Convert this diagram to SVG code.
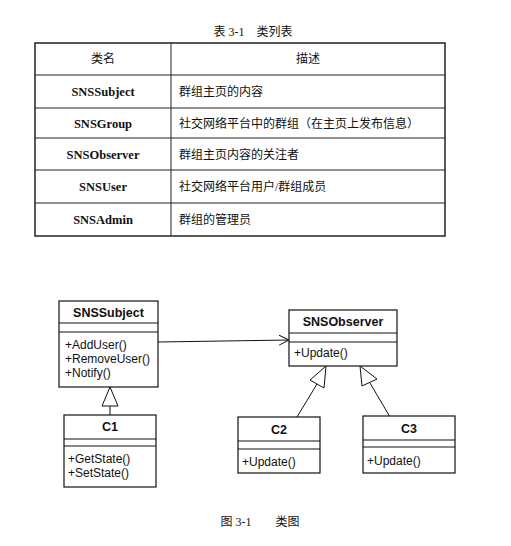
<svg xmlns="http://www.w3.org/2000/svg" width="511" height="546" viewBox="0 0 511 546">
<defs>
<style>
.cap{font-family:"Liberation Serif","Noto Sans CJK SC",serif;font-size:12px;fill:#111;text-anchor:middle}
.cn{font-family:"Liberation Serif","Noto Sans CJK SC",serif;font-size:12.5px;fill:#111;font-weight:bold;text-anchor:middle}
.cd{font-family:"Liberation Serif","Noto Sans CJK SC",serif;font-size:12px;fill:#111}
.tl{stroke:#222;stroke-width:1;fill:none}
.box{fill:#fff;stroke:#111;stroke-width:1.2}
.div{stroke:#111;stroke-width:1}
.ttl{font-family:"Liberation Sans",Arial,sans-serif;font-size:12.5px;font-weight:bold;fill:#111;text-anchor:middle}
.m{font-family:"Liberation Sans",Arial,sans-serif;font-size:12px;fill:#111}
.ln{stroke:#111;stroke-width:1;fill:none}
.tri{fill:#fff;stroke:#111;stroke-width:1}
</style>
<marker id="open" markerWidth="12" markerHeight="12" refX="10" refY="5" orient="auto" markerUnits="userSpaceOnUse">
<path d="M0,0 L10,5 L0,10" fill="none" stroke="#111" stroke-width="1"/>
</marker>
</defs>

<g id="table">
<text class="cap" x="253" y="36">表 3-1　类列表</text>
<rect x="35" y="43" width="410" height="193" fill="none" stroke="#222" stroke-width="1.5"/>
<line class="tl" x1="171" y1="43" x2="171" y2="236"/>
<line class="tl" x1="35" y1="75" x2="445" y2="75"/>
<line class="tl" x1="35" y1="108" x2="445" y2="108"/>
<line class="tl" x1="35" y1="138" x2="445" y2="138"/>
<line class="tl" x1="35" y1="170" x2="445" y2="170"/>
<line class="tl" x1="35" y1="203" x2="445" y2="203"/>
<text class="cap" x="103" y="63">类名</text>
<text class="cap" x="308" y="63">描述</text>
<text class="cn" x="103" y="96">SNSSubject</text>
<text class="cd" x="179" y="96">群组主页的内容</text>
<text class="cn" x="103" y="128">SNSGroup</text>
<text class="cd" x="179" y="128">社交网络平台中的群组（在主页上发布信息）</text>
<text class="cn" x="103" y="159">SNSObserver</text>
<text class="cd" x="179" y="159">群组主页内容的关注者</text>
<text class="cn" x="103" y="191">SNSUser</text>
<text class="cd" x="179" y="191">社交网络平台用户/群组成员</text>
<text class="cn" x="103" y="224">SNSAdmin</text>
<text class="cd" x="179" y="224">群组的管理员</text>
</g>

<g id="connectors">
<line class="ln" x1="158" y1="342" x2="289" y2="340" marker-end="url(#open)"/>
<line class="ln" x1="110" y1="406" x2="110" y2="415"/>
<polygon class="tri" points="110,387 102,406 118,406"/>
<line class="ln" x1="297" y1="417" x2="317" y2="384"/>
<polygon class="tri" points="326,366 310,380 324,388"/>
<line class="ln" x1="390" y1="417" x2="370" y2="383"/>
<polygon class="tri" points="360,366 362,386 377,379"/>
</g>

<g id="SNSSubject">
<rect class="box" x="59" y="301" width="99" height="86"/>
<line class="div" x1="59" y1="323" x2="158" y2="323"/>
<line class="div" x1="59" y1="332" x2="158" y2="332"/>
<text class="ttl" x="108.5" y="317">SNSSubject</text>
<text class="m" x="65" y="349">+AddUser()</text>
<text class="m" x="65" y="363">+RemoveUser()</text>
<text class="m" x="65" y="377">+Notify()</text>
</g>

<g id="C1">
<rect class="box" x="64" y="415" width="92" height="72"/>
<line class="div" x1="64" y1="439" x2="156" y2="439"/>
<line class="div" x1="64" y1="446" x2="156" y2="446"/>
<text class="ttl" x="110" y="431">C1</text>
<text class="m" x="68" y="463">+GetState()</text>
<text class="m" x="68" y="477">+SetState()</text>
</g>

<g id="SNSObserver">
<rect class="box" x="289" y="310" width="108" height="56"/>
<line class="div" x1="289" y1="333" x2="397" y2="333"/>
<line class="div" x1="289" y1="342" x2="397" y2="342"/>
<text class="ttl" x="343" y="326">SNSObserver</text>
<text class="m" x="294" y="357">+Update()</text>
</g>

<g id="C2">
<rect class="box" x="238" y="417" width="82" height="56"/>
<line class="div" x1="238" y1="441" x2="320" y2="441"/>
<line class="div" x1="238" y1="449" x2="320" y2="449"/>
<text class="ttl" x="279" y="434">C2</text>
<text class="m" x="242" y="466">+Update()</text>
</g>

<g id="C3">
<rect class="box" x="363" y="416" width="92" height="57"/>
<line class="div" x1="363" y1="440" x2="455" y2="440"/>
<line class="div" x1="363" y1="447" x2="455" y2="447"/>
<text class="ttl" x="409" y="433">C3</text>
<text class="m" x="367" y="465">+Update()</text>
</g>

<text class="cap" x="260" y="526">图 3-1　　类图</text>
</svg>
